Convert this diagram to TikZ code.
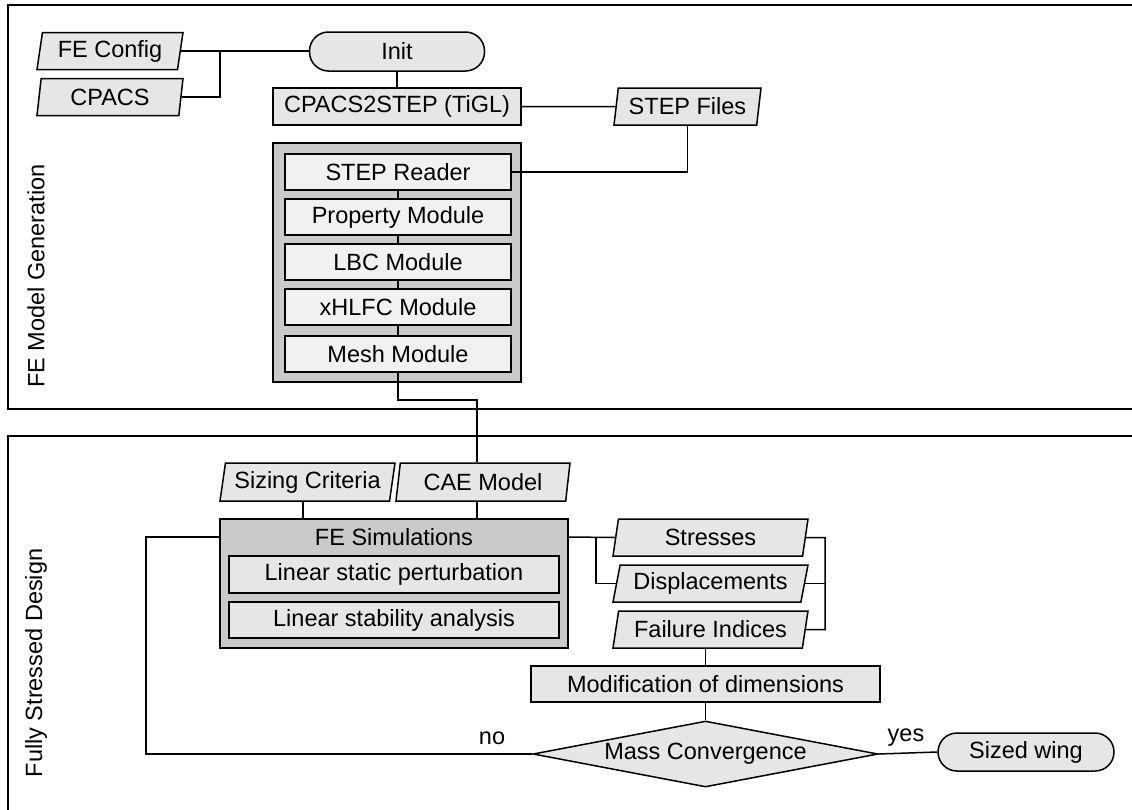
\documentclass[tikz,border=0pt]{standalone}
\usepackage{fontspec}
\setmainfont{Liberation Sans}
\usetikzlibrary{shapes.geometric,calc}
\definecolor{boxfill}{RGB}{230,230,230}
\definecolor{subfill}{RGB}{241,241,241}
\definecolor{groupfill}{RGB}{202,202,202}
\tikzset{
  every node/.style={font=\fontsize{23.5}{28}\selectfont, inner sep=0pt},
  ln/.style={line width=1.5pt, black},
  box/.style={draw, ln, fill=boxfill, rectangle, minimum height=37pt},
  subbox/.style={draw, ln, fill=subfill, rectangle, minimum width=226pt, minimum height=36pt},
  group/.style={draw, ln, fill=groupfill, rectangle},
  pill/.style={draw, ln, fill=boxfill, rectangle, rounded corners=19pt, minimum height=38pt},
  data/.style={draw, ln, fill=boxfill, trapezium, trapezium left angle=76, trapezium right angle=104,
    trapezium stretches body, minimum height=37pt},
  result/.style={data, trapezium left angle=72, trapezium right angle=108, minimum width=195pt},
  decision/.style={draw, ln, fill=boxfill, diamond, shape aspect=5.2, minimum width=345pt, minimum height=66pt},
  frame/.style={draw, line width=1.6pt},
  side/.style={rotate=90}
}
\begin{document}
\begin{tikzpicture}[x=1pt, y=-1pt]
\useasboundingbox (0,0) rectangle (1132,809);
\clip (0,0) rectangle (1132,809);

% section frames (open to the right / bottom)
\draw[frame] (8,5) rectangle (1150,409);
\draw[frame] (8,436) rectangle (1150,830);
\node[side] (lblgen) at (36,276) {FE Model Generation};
\node[side] (lblfsd) at (36,663) {Fully Stressed Design};

% ---- FE model generation ----
\node[data, minimum width=146pt] (fecfg) at (110,51) {FE Config};
\node[data, minimum width=146pt] (cpacs) at (110,97) {CPACS};
\node[pill, minimum width=175pt, minimum height=39pt] (init) at (397,51.5) {Init};
\node[box, minimum width=248pt] (c2s) at (397,106.5) {CPACS2STEP (TiGL)};
\node[data, minimum width=147pt] (stepf) at (687.5,106.5) {STEP Files};

\node[group, minimum width=248pt, minimum height=239pt] (modules) at (397,262.5) {};
\node[subbox] (reader) at (398,172) {STEP Reader};
\node[subbox] (prop) at (398,217) {Property Module};
\node[subbox] (lbc) at (398,262) {LBC Module};
\node[subbox] (xhlfc) at (398,307) {xHLFC Module};
\node[subbox] (mesh) at (398,354) {Mesh Module};

\coordinate (jin) at (220,51);
\draw[ln] (fecfg.east) -- (fecfg.east -| init.west);
\draw[ln] (cpacs.east) -| (jin);
\draw[ln] (init) -- (c2s);
\draw[ln] (c2s.east) -- (stepf.west);
\draw[ln] (stepf.south) |- (reader.east);
\draw[ln] (reader) -- (prop);
\draw[ln] (prop) -- (lbc);
\draw[ln] (lbc) -- (xhlfc);
\draw[ln] (xhlfc) -- (mesh);

% ---- fully stressed design ----
\node[data, minimum width=175pt, minimum height=38pt] (sizing) at (307.5,482) {Sizing Criteria};
\node[data, minimum width=174pt, minimum height=38pt] (cae) at (483,482) {CAE Model};

\node[group, minimum width=348pt, minimum height=129pt] (fesim) at (394,583.5) {};
\node (fetitle) at (394,537) {FE Simulations};
\node[box, minimum width=330pt] (lsp) at (394,574.5) {Linear static perturbation};
\node[box, minimum width=330pt, minimum height=36pt] (lsa) at (394,620) {Linear stability analysis};

\node[result] (stress) at (710.5,537.5) {Stresses};
\node[result] (disp) at (710.5,583.5) {Displacements};
\node[result] (fail) at (710.5,629.5) {Failure Indices};

\node[box, minimum width=349pt, minimum height=36pt] (modif) at (705.5,684) {Modification of dimensions};
\node[decision] (conv) at (705.5,754) {Mass Convergence};
\node[pill, minimum width=176pt] (sized) at (1026,752) {Sized wing};

\node (no) at (492,738) {no};
\node (yes) at (906,738) {yes};

\coordinate (jmesh) at (477,400);
\coordinate (jout) at (596,537.5);
\coordinate (jres) at (825,537.5);
\coordinate (jloop) at (146,537);

\draw[ln] (mesh.south) |- (jmesh) -- (jmesh |- cae.north);
\draw[ln] (jmesh |- cae.south) -- (jmesh |- fesim.north);
\draw[ln] (sizing.south -| 303,0) -- (fesim.north -| 303,0);
\draw[ln] (fetitle -| fesim.east) -- (stress.west);
\draw[ln] (jout) |- (disp.west);
\draw[ln] (stress.east) -- (jres) |- (fail.east);
\draw[ln] (disp.east) -- (disp.east -| jres);
\draw[ln] (modif.north |- fail.south) -- (modif.north);
\draw[ln] (modif) -- (conv);
\draw[ln] (conv.west) -| (jloop) -- (fetitle -| fesim.west);
\draw[ln] (conv.east) -- (sized.west);
\end{tikzpicture}
\end{document}
